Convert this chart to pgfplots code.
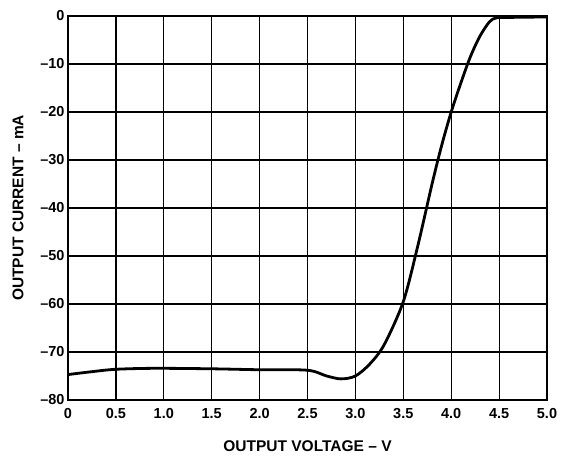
\documentclass[border=0pt]{standalone}
\usepackage{fontspec}
\setmainfont{Liberation Sans}
\usepackage{pgfplots}
\pgfplotsset{compat=1.18}

\begin{document}
\begin{tikzpicture}
\begin{axis}[
    scale only axis,
    width=479pt, height=384pt,
    xmin=0, xmax=5, ymin=-80, ymax=0,
    xtick={0,0.5,1,1.5,2,2.5,3,3.5,4,4.5,5},
    ytick={-80,-70,-60,-50,-40,-30,-20,-10,0},
    xticklabels={0,0.5,1.0,1.5,2.0,2.5,3.0,3.5,4.0,4.5,5.0},
    yticklabels={\textendash80,\textendash70,\textendash60,\textendash50,\textendash40,\textendash30,\textendash20,\textendash10,0},
    grid=major,
    major grid style={black, line width=1.2pt},
    axis line style={black, line width=1.8pt},
    tick style={draw=none},
    tick label style={font=\fontsize{14.5}{16}\selectfont\bfseries},
    xticklabel style={yshift=-5pt},
    label style={font=\fontsize{15.5}{17}\selectfont\bfseries},
    xlabel={OUTPUT VOLTAGE \textendash{} V},
    ylabel={OUTPUT CURRENT \textendash{} mA},
    xlabel style={yshift=-15pt},
    ylabel style={yshift=10pt},
]
\addplot[black, line width=2.8pt, smooth, tension=0.5] coordinates {
(0,-74.7) (0.25,-74.1) (0.5,-73.6) (0.9,-73.4) (1.5,-73.5) (2.0,-73.7)
(2.5,-73.8) (2.7,-75.0) (2.85,-75.6) (3.0,-75.0) (3.15,-72.5) (3.3,-68.5)
(3.5,-59.5) (3.65,-48) (3.8,-35) (3.9,-27) (4.0,-20) (4.1,-14)
(4.2,-8.5) (4.3,-4.2) (4.4,-1.2) (4.47,-0.4) (4.6,-0.3) (5.0,-0.2)
};
\end{axis}
\path (current axis.south west) ++(-68pt,-61pt) coordinate (bl);
\path (current axis.north east) ++(14pt,16pt) coordinate (tr);
\path[use as bounding box] (bl) rectangle (tr);
\end{tikzpicture}
\end{document}
